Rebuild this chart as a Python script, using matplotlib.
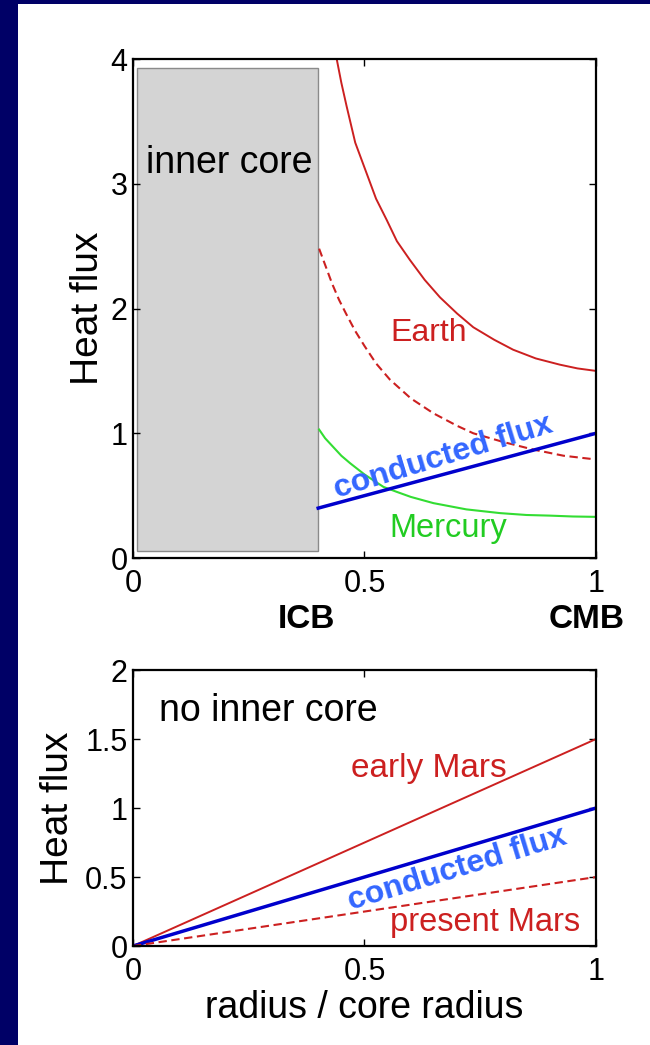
import numpy as np
import matplotlib
matplotlib.use("Agg")
import matplotlib.pyplot as plt
from matplotlib.patches import Rectangle

plt.rcParams['font.family'] = ['Liberation Sans', 'DejaVu Sans']

# --- top panel: core with an inner core (radius / core radius, heat flux) ---
earth_r = [0.44, 0.45, 0.4615, 0.48, 0.505, 0.525, 0.548, 0.57, 0.598, 0.63,
           0.663, 0.70, 0.735, 0.78, 0.821, 0.87, 0.922, 0.96, 1.0]
earth_q = [4.0, 3.81, 3.62, 3.33, 3.08, 2.88, 2.71, 2.54, 2.39, 2.23,
           2.09, 1.96, 1.85, 1.75, 1.67, 1.60, 1.55, 1.52, 1.50]

earth_dash_r = [0.402, 0.415, 0.43, 0.445, 0.46, 0.48, 0.50, 0.525, 0.555, 0.60,
                0.649, 0.70, 0.735, 0.80, 0.864, 0.93, 1.0]
earth_dash_q = [2.48, 2.35, 2.20, 2.07, 1.96, 1.82, 1.70, 1.56, 1.43, 1.28,
                1.16, 1.06, 1.00, 0.93, 0.87, 0.82, 0.79]

mercury_r = [0.402, 0.415, 0.43, 0.45, 0.469, 0.50, 0.541, 0.57, 0.60, 0.649,
             0.72, 0.793, 0.85, 0.90, 0.95, 1.0]
mercury_q = [1.03, 0.96, 0.90, 0.82, 0.76, 0.67, 0.57, 0.53, 0.49, 0.44,
             0.39, 0.36, 0.345, 0.34, 0.333, 0.33]

cond_top_r = [0.4, 1.0]
cond_top_q = [0.4, 1.0]

inner_core_x = [0.009, 0.40]
inner_core_y = [0.056, 3.93]

# --- bottom panel: no inner core ---
mars_r = [0.0, 1.0]
early_mars_q = [0.0, 1.5]
cond_bot_q = [0.0, 1.0]
present_mars_q = [0.0, 0.5]

top_yticks = [0, 1, 2, 3, 4]
bot_yticks = [0, 0.5, 1, 1.5, 2]
bot_yticklabels = ['0', '0.5', '1', '1.5', '2']
xticks = [0, 0.5, 1]
xticklabels = ['0', '0.5', '1']

RED = '#cc2020'
GREEN = '#33dd33'
BLUE = '#0000cc'
TXTBLUE = '#3366ff'
DASH = (0, (4, 2.2))

fig = plt.figure(figsize=(6.5, 10.45), dpi=100, facecolor='#000066')
fig.add_artist(Rectangle((18/650, 0), 1 - 18/650, 1 - 4/1045, transform=fig.transFigure,
                         facecolor='white', edgecolor='none', zorder=-10))

ax1 = fig.add_axes([0.2046, 0.4660, 0.7123, 0.4775])
ax2 = fig.add_axes([0.2046, 0.0947, 0.7123, 0.2641])

for ax in (ax1, ax2):
    ax.set_xlim(0, 1)
    ax.set_xticks(xticks)
    ax.set_xticklabels(xticklabels)
    ax.tick_params(direction='in', length=5, width=1, top=True, right=True, labelsize=22)
    ax.tick_params(axis='x', pad=8)
    ax.tick_params(axis='y', pad=4)
    for s in ax.spines.values():
        s.set_linewidth(1.6)

# top panel
ax1.set_ylim(0, 4)
ax1.set_yticks(top_yticks)
ax1.set_yticklabels([str(t) for t in top_yticks])
ax1.add_patch(Rectangle((inner_core_x[0], inner_core_y[0]),
                        inner_core_x[1] - inner_core_x[0], inner_core_y[1] - inner_core_y[0],
                        facecolor='#d4d4d4', edgecolor='#8a8a8a', lw=1))
ax1.text(0.208, 3.17, 'inner core', fontsize=27, ha='center', va='center')
ax1.plot(earth_r, earth_q, color=RED, lw=1.4)
ax1.plot(earth_dash_r, earth_dash_q, color=RED, lw=1.5, linestyle=DASH)
ax1.plot(mercury_r, mercury_q, color=GREEN, lw=1.5)
ax1.plot(cond_top_r, cond_top_q, color=BLUE, lw=2.5)
ax1.text(0.555, 1.80, 'Earth', color=RED, fontsize=23, ha='left', va='center')
ax1.text(0.553, 0.24, 'Mercury', color='#22cc22', fontsize=23.5, ha='left', va='center')
ax1.text(0.67, 0.81, 'conducted flux', color=TXTBLUE, fontsize=23, fontweight='bold',
         rotation=17, rotation_mode='anchor', ha='center', va='center')
ax1.set_ylabel('Heat flux', fontsize=28)
ax1.yaxis.set_label_coords(-0.058, 0.5)
ax1.text(0.374, -0.124, 'ICB', transform=ax1.transAxes, fontsize=24, fontweight='bold',
         ha='center', va='center', clip_on=False)
ax1.text(0.98, -0.124, 'CMB', transform=ax1.transAxes, fontsize=24, fontweight='bold',
         ha='center', va='center', clip_on=False)

# bottom panel
ax2.set_ylim(0, 2)
ax2.set_yticks(bot_yticks)
ax2.set_yticklabels(bot_yticklabels)
ax2.plot(mars_r, early_mars_q, color=RED, lw=1.4)
ax2.plot(mars_r, cond_bot_q, color=BLUE, lw=2.5)
ax2.plot(mars_r, present_mars_q, color=RED, lw=1.5, linestyle=DASH)
ax2.text(0.056, 1.70, 'no inner core', fontsize=27, ha='left', va='center')
ax2.text(0.64, 1.29, 'early Mars', color=RED, fontsize=24, ha='center', va='center')
ax2.text(0.70, 0.56, 'conducted flux', color=TXTBLUE, fontsize=23, fontweight='bold',
         rotation=17, rotation_mode='anchor', ha='center', va='center')
ax2.text(0.76, 0.17, 'present Mars', color=RED, fontsize=23.5, ha='center', va='center')
ax2.set_ylabel('Heat flux', fontsize=28)
ax2.yaxis.set_label_coords(-0.123, 0.5)
ax2.set_xlabel('radius / core radius', fontsize=27, labelpad=2)

fig.savefig('out.png', dpi=100, facecolor=fig.get_facecolor())
